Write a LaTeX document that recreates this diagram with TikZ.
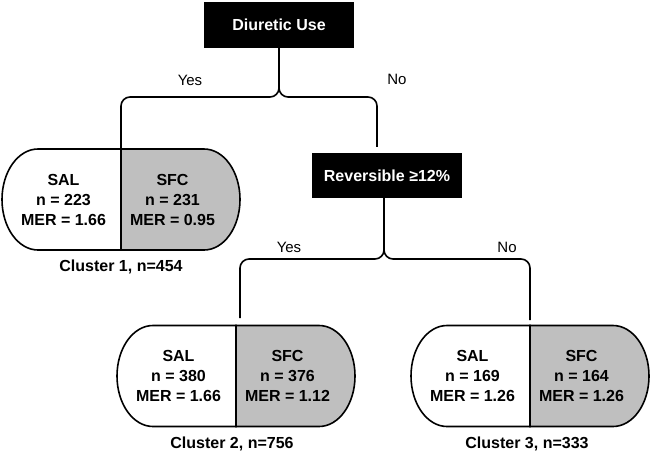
\documentclass[tikz,border=0pt]{standalone}
\usepackage{fontspec}
\setmainfont{Liberation Sans}
\usetikzlibrary{positioning}
\tikzset{
  split/.style={fill=black, text=white, font=\bfseries\fontsize{16}{19}\selectfont, minimum width=150, minimum height=46, inner sep=0},
  arm/.style={line width=1.6pt, rounded corners=9},
  answer/.style={font=\fontsize{15}{18}\selectfont},
  half/.style={align=center, font=\bfseries\fontsize{16}{20}\selectfont, inner sep=0},
  pill/.style={line width=1.6pt},
  tag/.style={font=\bfseries\fontsize{16}{19}\selectfont, inner sep=0}
}
% capsule: divider x, centre y
\def\capsule(#1,#2){
  \draw[pill, fill=white] (#1,#2+50.5) -- (#1-83,#2+50.5) arc[start angle=90, end angle=270, x radius=36, y radius=50.5] -- (#1,#2-50.5) -- cycle;
  \draw[pill, fill=black!25] (#1,#2+50.5) -- (#1+83,#2+50.5) arc[start angle=90, end angle=-90, x radius=36, y radius=50.5] -- (#1,#2-50.5) -- cycle;
}

\begin{document}
\begin{tikzpicture}[x=1pt, y=1pt]
  %%%%% START %%%%%
  \useasboundingbox (0,0) rectangle (652,453);

  \node[split] (diur) at (279,428) {Diuretic Use};
  \node[split, minimum height=45] (rev) at (387,277.5) {Reversible ≥12\%};

  % clusters
  \capsule(121,253.5)
  \capsule(236,77)
  \capsule(530,77)

  \coordinate (in1) at (121,304);
  \coordinate (revin) at (377,306);
  \coordinate (in2) at (240,135);
  \coordinate (in3) at (530,133);

  \draw[arm] (diur.south) -- (279,356) -| (in1);
  \draw[arm] (diur.south) -- (279,356) -| (revin);
  \draw[arm] ([xshift=-3]rev.south) -- (384,194) -| (in2);
  \draw[arm] ([xshift=-3]rev.south) -- (384,194) -| (in3);

  \node[answer] (yes1) at (190,373) {Yes};
  \node[answer] (no1) at (397,374) {No};
  \node[answer] (yes2) at (289,206) {Yes};
  \node[answer] (no2) at (507,206) {No};

  \node[half] (sal1) at (63.5,253.5) {SAL\\n = 223\\MER = 1.66};
  \node[half] (sfc1) at (172.5,253.5) {SFC\\n = 231\\MER = 0.95};
  \node[tag] (clu1) at (121,186) {Cluster 1, n=454};

  \node[half] (sal2) at (178.5,77) {SAL\\n = 380\\MER = 1.66};
  \node[half] (sfc2) at (287.5,77) {SFC\\n = 376\\MER = 1.12};
  \node[tag] (clu2) at (232,9.5) {Cluster 2, n=756};

  \node[half] (sal3) at (472.5,77) {SAL\\n = 169\\MER = 1.26};
  \node[half] (sfc3) at (581.5,77) {SFC\\n = 164\\MER = 1.26};
  \node[tag] (clu3) at (527,9.5) {Cluster 3, n=333};
  %%%%% END %%%%%
\end{tikzpicture}
\end{document}
